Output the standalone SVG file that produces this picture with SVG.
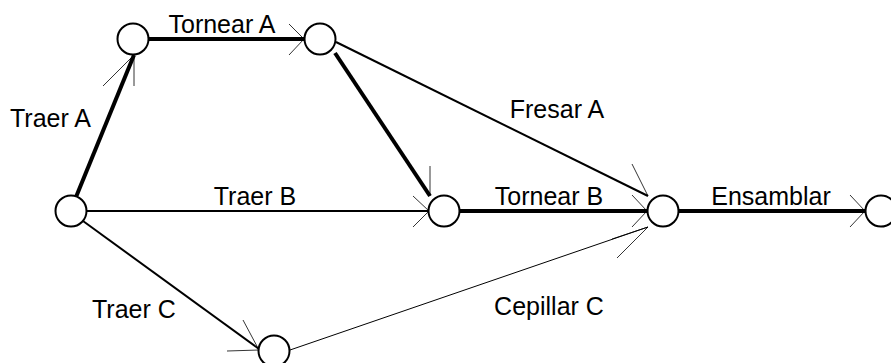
<svg xmlns="http://www.w3.org/2000/svg" width="891" height="363" viewBox="0 0 891 363">
<style>
.node{fill:#fff;stroke:#000;stroke-width:2}
.thick{stroke:#000;stroke-width:4;fill:none}
.mid{stroke:#000;stroke-width:2;fill:none}
.thin{stroke:#000;stroke-width:1;fill:none}
.wing{stroke:#000;stroke-width:0.8;fill:none}
.lbl{font-family:"Liberation Sans",Arial,sans-serif;font-size:25px;fill:#000}
</style>
<rect width="891" height="363" fill="#fff"/>
<g id="connectors">
  <g id="e-traerA">
    <line class="thick" x1="76" y1="197" x2="134" y2="55"/>
    <path class="wing" d="M103,86 L134,55 L134,86"/>
    <text class="lbl" x="10" y="127">Traer A</text>
  </g>
  <g id="e-tornearA">
    <line class="thick" x1="149" y1="39" x2="304" y2="39"/>
    <path class="wing" d="M289,24 L304,39 L289,55"/>
    <text class="lbl" x="222" y="33" text-anchor="middle">Tornear A</text>
  </g>
  <g id="e-n3n4">
    <line class="thick" x1="335" y1="53" x2="430" y2="196"/>
    <path class="wing" d="M430,166 L430,196"/>
  </g>
  <g id="e-fresarA">
    <line class="mid" x1="336" y1="42" x2="648" y2="196"/>
    <path class="wing" d="M632,164 L648,196"/>
    <text class="lbl" x="557" y="118" text-anchor="middle">Fresar A</text>
  </g>
  <g id="e-traerB">
    <line class="mid" x1="86" y1="211" x2="429" y2="211"/>
    <path class="wing" d="M413,196 L429,211 L413,227"/>
    <text class="lbl" x="255" y="205" text-anchor="middle">Traer B</text>
  </g>
  <g id="e-tornearB">
    <line class="thick" x1="459" y1="211" x2="647" y2="211"/>
    <path class="wing" d="M632,195 L647,211 L632,227"/>
    <text class="lbl" x="549" y="205" text-anchor="middle">Tornear B</text>
  </g>
  <g id="e-ensamblar">
    <line class="thick" x1="679" y1="211" x2="865" y2="211"/>
    <path class="wing" d="M850,195 L865,211 L850,227"/>
    <text class="lbl" x="771" y="205" text-anchor="middle">Ensamblar</text>
  </g>
  <g id="e-traerC">
    <line class="mid" x1="83" y1="221" x2="259" y2="349"/>
    <path class="wing" d="M243,320 L259,350 L227,351"/>
    <text class="lbl" x="92" y="318">Traer C</text>
  </g>
  <g id="e-cepillarC">
    <line class="thin" x1="290" y1="350" x2="648" y2="227"/>
    <path class="wing" d="M617,258 L648,227 L612,239"/>
    <text class="lbl" x="549" y="315" text-anchor="middle">Cepillar C</text>
  </g>
</g>
<g id="n1"><circle class="node" cx="71" cy="211" r="15.5"/></g>
<g id="n2"><circle class="node" cx="133" cy="39" r="15.5"/></g>
<g id="n3"><circle class="node" cx="320" cy="39" r="15.5"/></g>
<g id="n4"><circle class="node" cx="444" cy="211" r="15.5"/></g>
<g id="n5"><circle class="node" cx="663" cy="211" r="15.5"/></g>
<g id="n6"><circle class="node" cx="881" cy="211" r="15.5"/></g>
<g id="n7"><circle class="node" cx="274" cy="351" r="15.5"/></g>
</svg>
